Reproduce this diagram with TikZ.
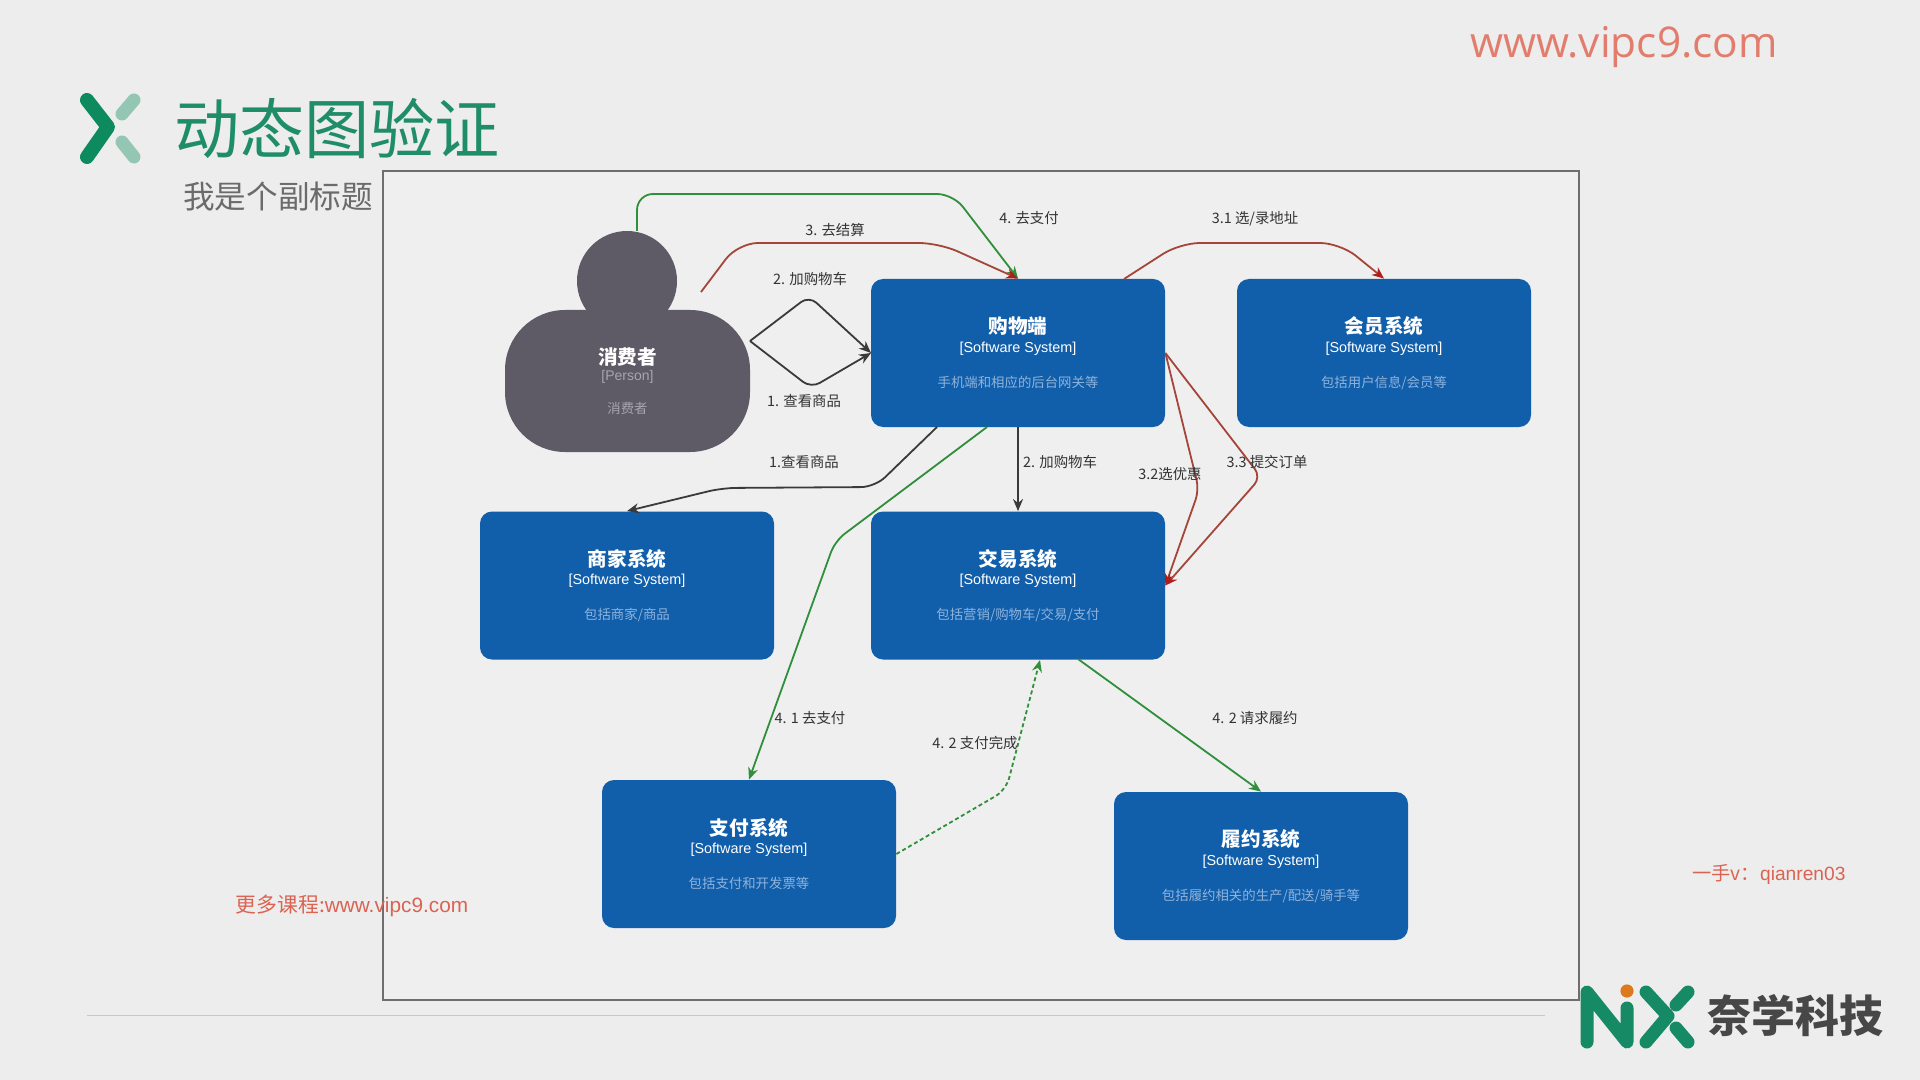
\documentclass[tikz,border=0pt]{standalone}
\usepackage{fontspec}
\setmainfont{Noto Sans CJK SC}
\setsansfont{Liberation Sans}
\newfontfamily\webfont{Open Sans}
\usetikzlibrary{arrows.meta}
\definecolor{bgc}{HTML}{EDEDED}
\definecolor{innerc}{HTML}{EFEFEF}
\definecolor{framec}{HTML}{6E6E6E}
\definecolor{blueb}{HTML}{115EAA}
\definecolor{descc}{HTML}{8FB3DC}
\definecolor{personc}{HTML}{5E5A66}
\definecolor{persond}{HTML}{A8A5AD}
\definecolor{greenl}{HTML}{2F8F3A}
\definecolor{redl}{HTML}{A5453A}
\definecolor{redt}{HTML}{AE1E1A}
\definecolor{blackl}{HTML}{3A3A3A}
\definecolor{labelc}{HTML}{333333}
\definecolor{titlec}{HTML}{1F8E68}
\definecolor{logod}{HTML}{0E8A5F}
\definecolor{logol}{HTML}{93C6B3}
\definecolor{logon}{HTML}{168A65}
\definecolor{orangec}{HTML}{DD7A1E}
\definecolor{salmon}{HTML}{E27D6E}
\definecolor{redwm}{HTML}{DB6352}
\newcommand{\fs}[1]{\fontsize{#1}{#1}\selectfont}
\newcommand{\sysl}[2]{{\fs{9.8}\bfseries #1}\\[-2.7pt]{\fs{7.2}\sffamily [Software System]}\\[5.5pt]{\fs{6.7}\color{descc}#2}}
\tikzset{
  sysbox/.style={draw=none,fill=blueb,rounded corners=6pt,minimum width=147pt,minimum height=74pt,inner sep=0pt,text=white,align=center},
  persona/.style={fill=personc,inner sep=0pt},
  lab/.style={text=labelc,inner sep=0pt,font=\fs{7.2}},
  conn/.style={line width=.9pt,-{Stealth[length=6pt,width=5pt]}},
  gline/.style={conn,draw=greenl},
  rline/.style={conn,draw=redl,-{Stealth[length=6pt,width=5pt,color=redt]}},
  bline/.style={conn,draw=blackl},
  logomark/.style={line cap=round,line join=round,line width=7pt},
}
\begin{document}
\begin{tikzpicture}[x=.5pt,y=-.5pt]
\path[use as bounding box,fill=bgc] (0,0) rectangle (1920,1080);
% frame
\draw[framec,line width=1.1pt,fill=innerc] (383,171) rectangle (1579,1000);
\draw[black!22,line width=.7pt] (87,1015.5) -- (1545,1015.5);
% top-left logo
\draw[logomark,logod] (87,100) -- (108,127) -- (87,157);
\draw[logomark,logol,line width=6.5pt] (122,114) -- (134,100);
\draw[logomark,logol,line width=6.5pt] (122,142) -- (134,157);
\node[text=titlec,inner sep=0pt,anchor=center] (title) at (337,129) {\fs{32.6}动态图验证};
\node[text=black!58,inner sep=0pt] (subtitle) at (278,197) {\fs{15.8}我是个副标题};
\node[text=salmon,inner sep=0pt] (web) at (1624,47) {\webfont\fs{21.2}www.vipc9.com};
\node[text=redwm,inner sep=0pt] (more) at (352,905.5) {\fs{10.4}更多课程:{\sffamily www.vipc9.com}};
\node[text=redwm,inner sep=0pt] (contact) at (1769,874) {\fs{9.6}一手v：{\sffamily qianren03}};
% bottom-right logo
\draw[logomark,logon,line width=6.5pt] (1587,1042) -- (1587,992) -- (1627,1042) -- (1627,1008);
\fill[orangec] (1627,991) circle (3.3pt);
\draw[logomark,logon,line width=6.5pt] (1646,992) -- (1668,1016) -- (1646,1042);
\draw[logomark,logon,line width=6.5pt] (1688,992) -- (1676,1005);
\draw[logomark,logon,line width=6.5pt] (1676,1028) -- (1688,1042);
\node[text=black!72,inner sep=0pt] (brand) at (1795,1016) {\fs{22}\bfseries 奈学科技};
% person
\node[persona,rounded corners=30pt,minimum width=122.5pt,minimum height=71pt,text=white,align=center] (body) at (627.5,381) {{\fs{9.8}\bfseries 消费者}\\[-4.1pt]{\fs{7}\sffamily\color{persond}[Person]}\\[4.3pt]{\fs{6.7}\color{persond}消费者}};
\node[persona,circle,minimum width=50pt] (head) at (627,281) {};
% systems
\node[sysbox] (shop) at (1018,353) {\sysl{购物端}{手机端和相应的后台网关等}};
\node[sysbox] (member) at (1384,353) {\sysl{会员系统}{包括用户信息/会员等}};
\node[sysbox] (merchant) at (627,585.5) {\sysl{商家系统}{包括商家/商品}};
\node[sysbox] (trade) at (1018,585.5) {\sysl{交易系统}{包括营销/购物车/交易/支付}};
\node[sysbox] (pay) at (749,854) {\sysl{支付系统}{包括支付和开发票等}};
\node[sysbox] (fulfil) at (1261,866) {\sysl{履约系统}{包括履约相关的生产/配送/骑手等}};
% waypoints and free ends
\coordinate (headTop) at (637,231);
\coordinate (redStart) at (701,292);
\coordinate (bodyR) at (750,341);
\coordinate (shopL) at (871,353);
\coordinate (shopBa) at (937,427);
\coordinate (shopBb) at (987,427);
\coordinate (shopTc) at (1124,279);
\coordinate (tradeBa) at (1040,660);
\coordinate (tradeBb) at (1078,659);
% connectors
\draw[gline,rounded corners=8pt] (headTop) -- (637,194) -- (953,194) -- (shop.north);
\draw[rline,rounded corners=10pt] (redStart) -- (738,243) -- (939,243) -- (shop.north);
\draw[bline,rounded corners=5pt] (bodyR) -- (809,296) -- (shopL);
\draw[bline,rounded corners=5pt] (bodyR) -- (811,388) -- (shopL);
\draw[bline,rounded corners=7pt] (shopBa) -- (875,487) -- (722,488) -- (merchant.north);
\draw[bline] (shop.south) -- (trade.north);
\draw[gline,rounded corners=6pt] (shopBb) -- (835,541) -- (pay.north);
\draw[rline,rounded corners=10pt] (shopTc) -- (1180,243) -- (1340,243) -- (member.north);
\draw[rline,rounded corners=5pt] (shop.east) -- (1199,490) -- (trade.east);
\draw[rline,rounded corners=5pt] (shop.east) -- (1261,477) -- (trade.east);
\draw[gline,rounded corners=6pt,dash pattern=on 2pt off 1.4pt] (pay.east) -- (1006,790) -- (tradeBa);
\draw[gline] (tradeBb) -- (fulfil.north);
% labels
\node[lab] (l1) at (1029,218) {4. 去支付};
\node[lab] (l2) at (835,230) {3. 去结算};
\node[lab] (l3) at (810,279) {2. 加购物车};
\node[lab] (l4) at (804,401) {1. 查看商品};
\node[lab] (l5) at (804,462) {1.查看商品};
\node[lab] (l6) at (1060,462) {2. 加购物车};
\node[lab] (l7) at (1255,219) {3.1 选/录地址};
\node[lab] (l8) at (1170,474) {3.2选优惠};
\node[lab] (l9) at (1267,462) {3.3 提交订单};
\node[lab] (l10) at (810,718) {4. 1 去支付};
\node[lab] (l11) at (975,743) {4. 2 支付完成};
\node[lab] (l12) at (1255,718) {4. 2 请求履约};
\end{tikzpicture}
\end{document}
